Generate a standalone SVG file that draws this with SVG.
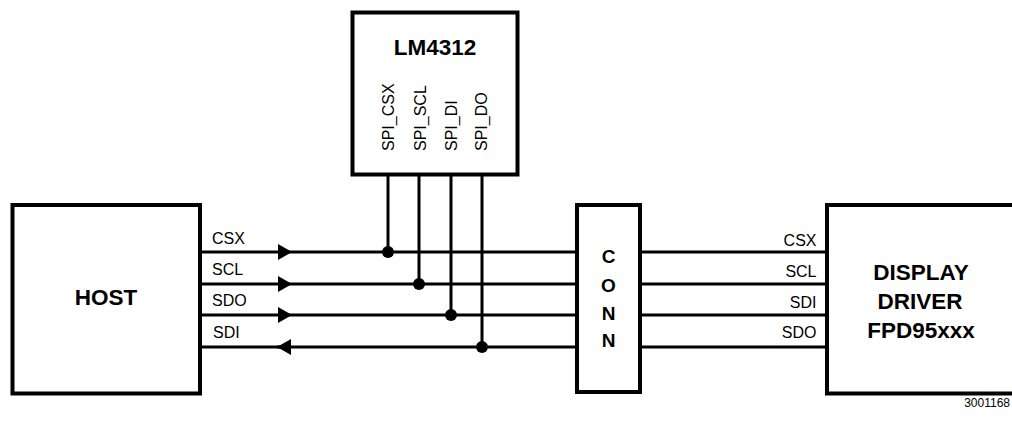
<svg xmlns="http://www.w3.org/2000/svg" width="1012" height="423" viewBox="0 0 1012 423">
<style>
.box{fill:#fff;stroke:#000;stroke-width:4}
.w{stroke:#000;stroke-width:3;fill:none}
.t{font-family:"Liberation Sans",Arial,sans-serif;fill:#000}
.b{font-weight:bold}
.s{font-size:16px}
.big{font-size:22.5px;font-weight:bold;text-anchor:middle}
.c{font-size:19px;font-weight:bold;text-anchor:middle}
.r{text-anchor:end}
.dot{fill:#000}
</style>
<defs>
<marker id="arr" viewBox="0 0 14 16" refX="14" refY="8" markerWidth="14" markerHeight="16" markerUnits="userSpaceOnUse" orient="auto"><path d="M0,0 L14,8 L0,16 Z" fill="#000"/></marker>
</defs>
<g id="connectors">
<path class="w" d="M200,252 H292" marker-end="url(#arr)"/>
<path class="w" d="M200,284 H292" marker-end="url(#arr)"/>
<path class="w" d="M200,315 H292" marker-end="url(#arr)"/>
<path class="w" d="M577,347 H277" marker-end="url(#arr)"/>
<path class="w" d="M200,347 H280"/>
<path class="w" d="M292,252 H577"/>
<path class="w" d="M292,284 H577"/>
<path class="w" d="M292,315 H577"/>
<path class="w" d="M640,252 H827"/>
<path class="w" d="M640,284 H827"/>
<path class="w" d="M640,315 H827"/>
<path class="w" d="M640,347 H827"/>
<path class="w" d="M388,175 V252"/>
<path class="w" d="M419,175 V284"/>
<path class="w" d="M451,175 V315"/>
<path class="w" d="M482,175 V347"/>
<circle class="dot" cx="388" cy="252" r="6"/>
<circle class="dot" cx="419" cy="284" r="6"/>
<circle class="dot" cx="451" cy="315" r="6"/>
<circle class="dot" cx="482" cy="347" r="6"/>
</g>
<g id="lm4312">
<rect class="box" x="352.5" y="12.5" width="165" height="162"/>
<text class="t big" x="435" y="55">LM4312</text>
<text class="t s" transform="translate(394,151) rotate(-90)">SPI_CSX</text>
<text class="t s" transform="translate(425.5,151) rotate(-90)">SPI_SCL</text>
<text class="t s" transform="translate(457,151) rotate(-90)">SPI_DI</text>
<text class="t s" transform="translate(487,151) rotate(-90)">SPI_DO</text>
</g>
<g id="host">
<rect class="box" x="12.5" y="205" width="187.5" height="188.5"/>
<text class="t big" x="106" y="305">HOST</text>
<text class="t s" x="212" y="244">CSX</text>
<text class="t s" x="212" y="275">SCL</text>
<text class="t s" x="212" y="306">SDO</text>
<text class="t s" x="213" y="338">SDI</text>
</g>
<g id="conn">
<rect class="box" x="577" y="205" width="63" height="187"/>
<text class="t c" x="608.5" y="263">C</text>
<text class="t c" x="608.5" y="292">O</text>
<text class="t c" x="608.5" y="320">N</text>
<text class="t c" x="608.5" y="347">N</text>
</g>
<g id="display">
<path class="box" d="M1014,205 H827 V393.5 H1014"/>
<text class="t big" x="921" y="280">DISPLAY</text>
<text class="t big" x="920" y="309">DRIVER</text>
<text class="t big" x="921" y="338">FPD95xxx</text>
<text class="t s r" x="816.5" y="246">CSX</text>
<text class="t s r" x="816.5" y="277">SCL</text>
<text class="t s r" x="816.5" y="308">SDI</text>
<text class="t s r" x="816.5" y="338">SDO</text>
</g>
<text class="t r" x="1010" y="407" font-size="12">3001168</text>
</svg>
